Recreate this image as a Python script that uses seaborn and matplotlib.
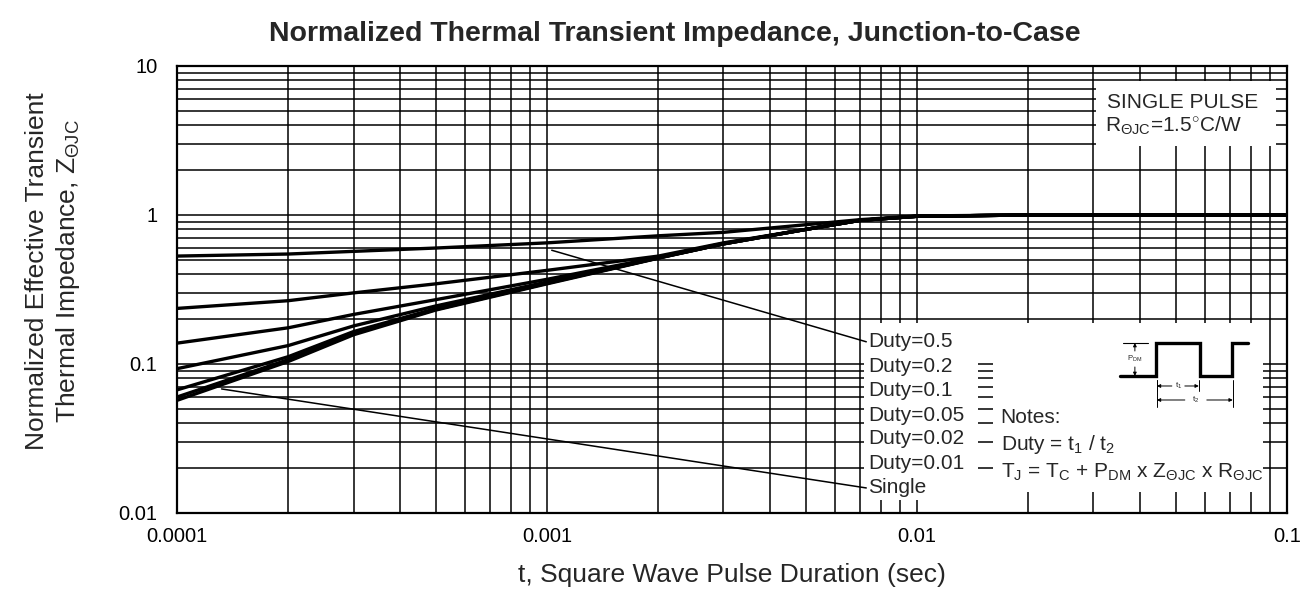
import matplotlib
matplotlib.use("Agg")
import pandas as pd
import matplotlib.pyplot as plt
import seaborn as sns
from matplotlib.patches import Rectangle
from matplotlib.ticker import FixedLocator, LogLocator, NullFormatter

# pulse duration (sec) and normalized Zth
t_sec = [1e-4, 2e-4, 3e-4, 5e-4, 1e-3, 2e-3, 3e-3, 5e-3, 7e-3, 1e-2, 2e-2, 5e-2, 1e-1]
z_duty_05 = [0.53, 0.547, 0.57, 0.60, 0.65, 0.725, 0.765, 0.86, 0.93, 0.985, 1.0, 1.0, 1.0]
z_duty_02 = [0.236, 0.266, 0.30, 0.345, 0.425, 0.53, 0.65, 0.80, 0.92, 0.98, 1.0, 1.0, 1.0]
z_duty_01 = [0.138, 0.175, 0.215, 0.27, 0.37, 0.52, 0.645, 0.80, 0.92, 0.98, 1.0, 1.0, 1.0]
z_duty_005 = [0.093, 0.133, 0.18, 0.245, 0.355, 0.517, 0.64, 0.80, 0.92, 0.98, 1.0, 1.0, 1.0]
z_duty_002 = [0.067, 0.112, 0.165, 0.235, 0.35, 0.515, 0.64, 0.80, 0.92, 0.98, 1.0, 1.0, 1.0]
z_duty_001 = [0.060, 0.107, 0.16, 0.232, 0.348, 0.515, 0.64, 0.80, 0.92, 0.98, 1.0, 1.0, 1.0]
z_single = [0.057, 0.104, 0.157, 0.23, 0.345, 0.513, 0.64, 0.80, 0.92, 0.98, 1.0, 1.0, 1.0]

curve_labels = ["Duty=0.5", "Duty=0.2", "Duty=0.1", "Duty=0.05",
                "Duty=0.02", "Duty=0.01", "Single"]
curve_values = [z_duty_05, z_duty_02, z_duty_01, z_duty_005,
                z_duty_002, z_duty_001, z_single]

x_ticks = [1e-4, 1e-3, 1e-2, 1e-1]
x_tick_labels = ["0.0001", "0.001", "0.01", "0.1"]
y_ticks = [0.01, 0.1, 1, 10]
y_tick_labels = ["0.01", "0.1", "1", "10"]

sns.set_style("white")
plt.rcParams['font.family'] = ['Liberation Sans', 'DejaVu Sans']
plt.rcParams['mathtext.fontset'] = 'custom'
plt.rcParams['mathtext.rm'] = 'Liberation Sans'
plt.rcParams['mathtext.it'] = 'Liberation Sans:italic'
plt.rcParams['mathtext.bf'] = 'Liberation Sans:bold'

rows = []
for lab, vals in zip(curve_labels, curve_values):
    for t, z in zip(t_sec, vals):
        rows.append({'t': t, 'z': z, 'curve': lab})
df = pd.DataFrame(rows)

fig = plt.figure(figsize=(13.1, 5.94), dpi=100)
ax = fig.add_axes([0.1351, 0.1364, 0.8473, 0.7525])

sns.lineplot(data=df, x='t', y='z', hue='curve', hue_order=curve_labels,
             palette=['black'] * len(curve_labels), estimator=None,
             linewidth=2.4, legend=False, ax=ax)

ax.set_xscale('log')
ax.set_yscale('log')
ax.set_xlim(1e-4, 1e-1)
ax.set_ylim(0.01, 10)
ax.xaxis.set_major_locator(FixedLocator(x_ticks))
ax.yaxis.set_major_locator(FixedLocator(y_ticks))
ax.set_xticklabels(x_tick_labels)
ax.set_yticklabels(y_tick_labels)
ax.xaxis.set_minor_locator(LogLocator(base=10, subs=range(2, 10)))
ax.yaxis.set_minor_locator(LogLocator(base=10, subs=range(2, 10)))
ax.xaxis.set_minor_formatter(NullFormatter())
ax.yaxis.set_minor_formatter(NullFormatter())
ax.tick_params(which='both', length=0, labelsize=14.5, colors='black')
ax.tick_params(axis='y', pad=14)
ax.tick_params(axis='x', pad=10)
ax.grid(True, which='both', color='black', linewidth=1.1)
ax.set_axisbelow(True)
for s in ax.spines.values():
    s.set_color('black')
    s.set_linewidth(1.6)

# white panels behind the labels and notes
ax.add_patch(Rectangle((0.619, 0.029), 0.103, 0.396, transform=ax.transAxes,
                       facecolor='white', edgecolor='none', zorder=2.5))
ax.add_patch(Rectangle((0.735, 0.047), 0.243, 0.378, transform=ax.transAxes,
                       facecolor='white', edgecolor='none', zorder=2.5))
ax.add_patch(Rectangle((0.828, 0.822), 0.162, 0.145, transform=ax.transAxes,
                       facecolor='white', edgecolor='none', zorder=2.5))

# curve labels
label_y = [0.383, 0.327, 0.273, 0.219, 0.166, 0.110, 0.056]
for lab, yy in zip(curve_labels, label_y):
    ax.text(0.623, yy, lab, transform=ax.transAxes, ha='left', va='center',
            fontsize=15, zorder=4)

leader = dict(arrowstyle='-', lw=1.1, color='black', shrinkA=0, shrinkB=0)
ax.annotate("", xy=(1.03e-3, 0.58), xycoords='data',
            xytext=(0.621, 0.383), textcoords='axes fraction',
            arrowprops=leader, zorder=4)
ax.annotate("", xy=(1.32e-4, 0.068), xycoords='data',
            xytext=(0.621, 0.056), textcoords='axes fraction',
            arrowprops=leader, zorder=4)

# notes
ax.text(0.742, 0.2125, "Notes:", transform=ax.transAxes, fontsize=15,
        va='center', zorder=4)
ax.text(0.742, 0.154, r"Duty = t$_\mathrm{1}$ / t$_\mathrm{2}$",
        transform=ax.transAxes, fontsize=15, va='center', zorder=4)
ax.text(0.742, 0.090,
        r"T$_\mathrm{J}$ = T$_\mathrm{C}$ + P$_\mathrm{DM}$ x Z$_\mathrm{ΘJC}$ x R$_\mathrm{ΘJC}$",
        transform=ax.transAxes, fontsize=15, va='center', zorder=4)

ax.text(0.838, 0.919, "SINGLE PULSE", transform=ax.transAxes, fontsize=15,
        va='center', zorder=4)
ax.text(0.836, 0.866, r"R$_\mathrm{ΘJC}$=1.5$^{\circ}$C/W", transform=ax.transAxes,
        fontsize=15, va='center', zorder=4)

# pulse waveform sketch
pin = ax.inset_axes([0.845, 0.2304, 0.126, 0.1678])
pin.set_xlim(0, 140)
pin.set_ylim(75, 0)
pin.axis('off')
pin.plot([5, 41, 41, 85, 85, 117, 117, 133], [41, 41, 8, 8, 41, 41, 8, 8],
         color='black', lw=2.4, solid_joinstyle='miter')
pin.plot([8, 33], [8, 8], color='black', lw=0.8)
arr = dict(arrowstyle='-|>', lw=0.7, color='black', mutation_scale=5,
           shrinkA=0, shrinkB=0)
pin.annotate("", xy=(20, 8), xytext=(20, 16), arrowprops=arr)
pin.annotate("", xy=(20, 41), xytext=(20, 32), arrowprops=arr)
pin.text(20, 24, r"P$_\mathrm{DM}$", fontsize=5.5, ha='center', va='center')
for xv in (42, 84):
    pin.plot([xv, xv], [45, 56], color='black', lw=0.7)
for xv in (42, 118):
    pin.plot([xv, xv], [45, 72], color='black', lw=0.7)
pin.annotate("", xy=(42, 51), xytext=(57, 51), arrowprops=arr)
pin.annotate("", xy=(84, 51), xytext=(70, 51), arrowprops=arr)
pin.text(63.5, 51, r"t$_\mathrm{1}$", fontsize=6, ha='center', va='center')
pin.annotate("", xy=(42, 65), xytext=(70, 65), arrowprops=arr)
pin.annotate("", xy=(118, 65), xytext=(92, 65), arrowprops=arr)
pin.text(81, 65, r"t$_\mathrm{2}$", fontsize=6, ha='center', va='center')

ax.set_xlabel("t, Square Wave Pulse Duration (sec)", fontsize=19, labelpad=12)
ax.set_ylabel("")
fig.text(0.041, 0.544,
         "Normalized Effective Transient\nThermal Impedance, Z$_\\mathrm{ΘJC}$",
         rotation=90, ha='center', va='center', fontsize=19, linespacing=1.25)
fig.text(0.515, 0.942, "Normalized Thermal Transient Impedance, Junction-to-Case",
         ha='center', va='center', fontsize=20.5, fontweight='bold')

fig.savefig("out.png", dpi=100)
